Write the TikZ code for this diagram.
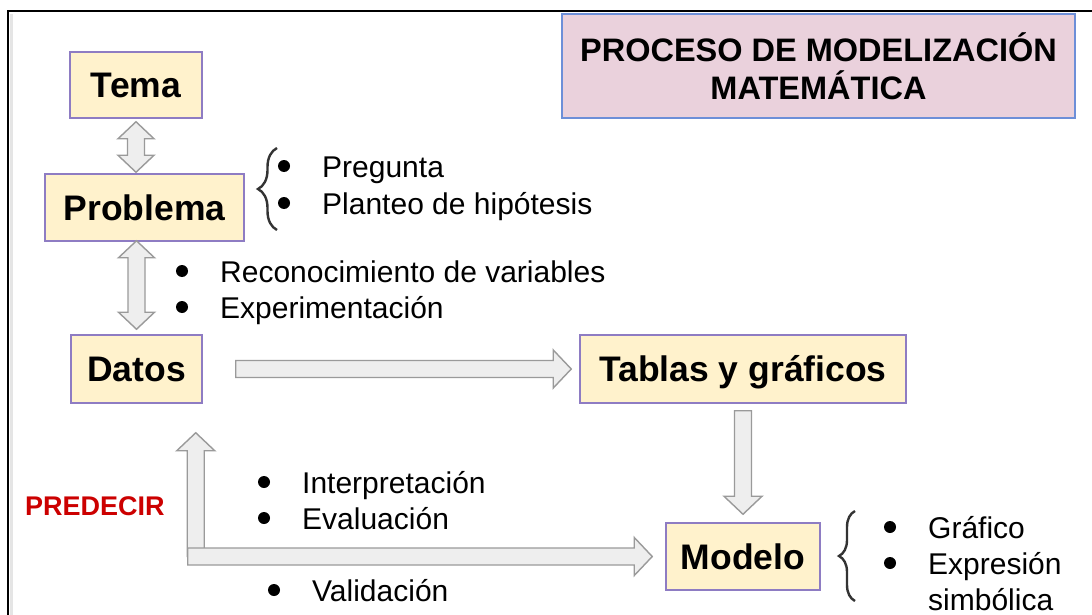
\documentclass[tikz,border=0pt]{standalone}
\usepackage{fontspec}
\setmainfont{Liberation Sans}
\usetikzlibrary{calc,decorations.pathreplacing}
\definecolor{cajafondo}{HTML}{FFF2CC}
\definecolor{cajaborde}{HTML}{8E7CC3}
\definecolor{titfondo}{HTML}{EAD1DC}
\definecolor{titborde}{HTML}{6D8FD8}
\definecolor{flecha}{HTML}{EEEEEE}
\definecolor{flechaborde}{HTML}{9A9A9A}
\definecolor{rojo}{HTML}{CC0000}

\begin{document}
\begin{tikzpicture}[x=1pt,y=-1pt,
  caja/.style={draw=cajaborde,line width=1.5,fill=cajafondo,inner sep=0,text height=25.4,text depth=0,font=\fontsize{35.5}{42}\selectfont\bfseries},
  item/.style={anchor=base west,inner sep=0,font=\fontsize{30}{36}\selectfont},
  barrow/.style={draw=flechaborde,fill=flecha,line width=1.4,line join=miter},
  block/.style={to path={let \p1=(\tikztostart),\p2=(\tikztotarget),\p3=($(\p2)!18pt!(\p1)$) in
    ($(\p1)!8.5pt!-90:(\p2)$) -- ($(\p3)!8.5pt!90:(\p1)$) -- ($(\p3)!19pt!90:(\p1)$) -- (\p2)
    -- ($(\p3)!19pt!-90:(\p1)$) -- ($(\p3)!8.5pt!-90:(\p1)$) -- ($(\p1)!8.5pt!90:(\p2)$) -- cycle}},
  dblock/.style={to path={let \p1=(\tikztostart),\p2=(\tikztotarget),\p3=($(\p2)!17pt!(\p1)$),\p4=($(\p1)!17pt!(\p2)$) in
    (\p1) -- ($(\p4)!18pt!-90:(\p2)$) -- ($(\p4)!8.5pt!-90:(\p2)$) -- ($(\p3)!8.5pt!90:(\p1)$) -- ($(\p3)!18pt!90:(\p1)$) -- (\p2)
    -- ($(\p3)!18pt!-90:(\p1)$) -- ($(\p3)!8.5pt!-90:(\p1)$) -- ($(\p4)!8.5pt!90:(\p2)$) -- ($(\p4)!18pt!90:(\p2)$) -- cycle}},
  llave/.style={decorate,decoration={brace,amplitude=#1},line width=2.4,draw=black!80}]
\useasboundingbox (0,0) rectangle (1092,615);
\fill[white] (0,0) rectangle (1092,615);
% marco
\draw[gray!20,line width=3] (11.5,14) -- (11.5,615);
\draw[line width=2] (8,615) -- (8,11.5) -- (1092,11.5);

% cajas
\node[caja,minimum width=132,minimum height=66] (te) at (136,85) {Tema};
\node[caja,minimum width=199,minimum height=67] (pr) at (144.5,207.5) {Problema};
\node[caja,minimum width=131,minimum height=68] (da) at (136.5,369) {Datos};
\node[caja,minimum width=326,minimum height=68] (ta) at (743,369) {Tablas y gráficos};
\node[caja,minimum width=154,minimum height=67] (mo) at (743,556.5) {Modelo};
\node[draw=titborde,line width=2.5,fill=titfondo,minimum width=513,minimum height=104,align=center,
  font=\fontsize{32.5}{38}\selectfont\bfseries] (ti) at (818.5,66) {PROCESO DE MODELIZACIÓN\\MATEMÁTICA};
\node[font=\fontsize{27}{32}\selectfont\bfseries,text=rojo,inner sep=0,anchor=base west] (pd) at (25,515) {PREDECIR};

% listas
\node[item] (pg) at (322,177) {Pregunta};
\node[item] (ph) at (322,214) {Planteo de hipótesis};
\node[item] (rv) at (220,282) {Reconocimiento de variables};
\node[item] (ex) at (220,318) {Experimentación};
\node[item] (in) at (302,493) {Interpretación};
\node[item] (ev) at (302,529) {Evaluación};
\node[item] (va) at (312,601) {Validación};
\node[item] (gr) at (928,538) {Gráfico};
\node[item] (es) at (928,574) {Expresión};
\node[item] (si) at (928,610) {simbólica};
\foreach \n in {pg,ph,rv,ex,in,ev,va,gr,es}
  \fill (\n.base west) ++(-38,-11) circle (6);
\draw[llave=19] (277,230) -- (277,148);
\draw[llave=16] (855,601) -- (855,511);

% flechas
\draw[barrow] ([yshift=-3]te.south) to[dblock] ([yshift=1]te.south |- pr.north);
\draw[barrow] ([yshift=1]da.north |- pr.south) to[dblock] ([yshift=5]da.north);
\draw[barrow] ([xshift=33]da.east) to[block] ([xshift=-8]ta.west);
\draw[barrow] ([yshift=-7]ta.south) to[block] ([yshift=8]mo.north);
\coordinate (esq) at ([xshift=-15]da.south east |- mo.west);
\draw[barrow] ([xshift=8]esq) to[block] ([xshift=-7,yshift=-29]da.south east);
\draw[barrow] (esq) to[block] ([xshift=-13]mo.west);
\end{tikzpicture}
\end{document}
